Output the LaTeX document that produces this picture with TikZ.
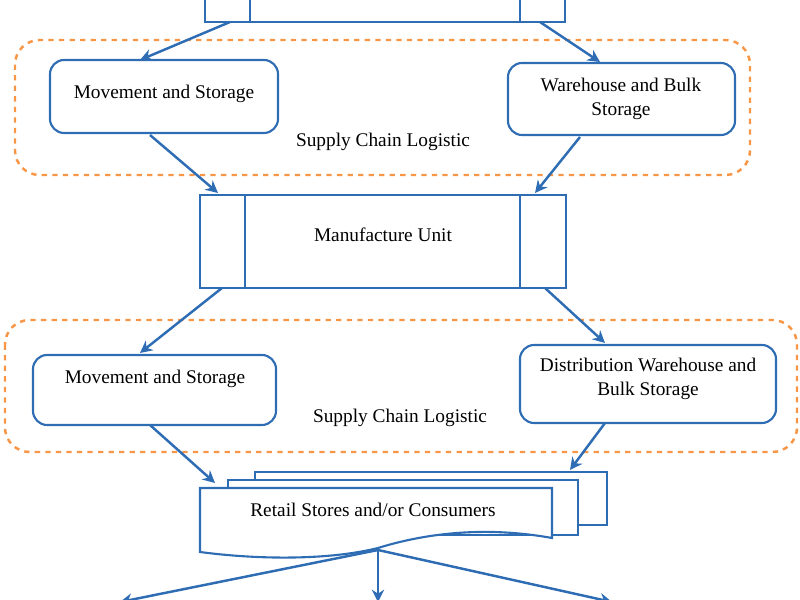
\documentclass[tikz,border=0pt]{standalone}
\usepackage{fontspec}
\setmainfont{Liberation Serif}
\usetikzlibrary{arrows.meta}
\definecolor{boxblue}{HTML}{2E6DB4}
\definecolor{logorange}{HTML}{F79646}
\tikzset{
  blk/.style={draw=boxblue, line width=1.2pt, rounded corners=8pt, fill=white},
  proc/.style={draw=boxblue, line width=1.2pt, fill=white},
  grp/.style={draw=logorange, line width=1.4pt, dashed, rounded corners=14pt},
  flow/.style={-{Stealth[length=7pt,width=7pt]}, draw=boxblue, line width=1.4pt},
  txt/.style={font=\fontsize{11}{14}\selectfont, align=center}
}
\begin{document}
\begin{tikzpicture}[x=0.2mm, y=-0.2mm]
\useasboundingbox (0,0) rectangle (800,600);
% top process box
\draw[proc] (205,-5) rectangle (565,22);
\draw[proc] (250,-5) -- (250,22) (520,-5) -- (520,22);
\coordinate (topL) at (230,22);
\coordinate (topR) at (540,22);
% first logistic group
\draw[grp] (15,40) rectangle (750,175);
\draw[blk] (50,60) rectangle (278,133);
\node[txt] (mov1) at (164,94) {Movement and Storage};
\draw[blk] (508,63) rectangle (735,135);
\node[txt] (ware) at (621,99) {Warehouse and Bulk\\Storage};
\node[txt] (log1) at (383,142) {Supply Chain Logistic};
% manufacture
\draw[proc] (200,195) rectangle (566,288);
\draw[proc] (245,195) -- (245,288) (520,195) -- (520,288);
\node[txt] (manu) at (383,235) {Manufacture Unit};
% second logistic group
\draw[grp] (5,320) rectangle (797,452);
\draw[blk] (33,355) rectangle (276,425);
\node[txt] (mov2) at (155,379) {Movement and Storage};
\draw[blk] (520,345) rectangle (776,423);
\node[txt] (dist) at (648,379) {Distribution Warehouse and\\Bulk Storage};
\node[txt] (log2) at (400,418) {Supply Chain Logistic};
% retail multi-document
\draw[proc] (255,472) rectangle (607,525);
\draw[proc] (228,480) rectangle (578,535);
\draw[proc] (200,488) -- (552,488) -- (552,538) .. controls (480,525) and (420,535) .. (378,548)
  .. controls (330,560) and (260,560) .. (200,552) -- cycle;
\node[txt] (retail) at (373,510) {Retail Stores and/or Consumers};
\coordinate (retB) at (378,550);
\coordinate (outL) at (120,602);
\coordinate (outM) at (378,602);
\coordinate (outR) at (612,602);
% connectors
\draw[flow] (topL) -- (140,60);
\draw[flow] (topR) -- (600,62);
\draw[flow] (150,135) -- (218,193);
\draw[flow] (580,137) -- (535,193);
\draw[flow] (222,288) -- (140,353);
\draw[flow] (545,288) -- (605,343);
\draw[flow] (150,425) -- (215,483);
\draw[flow] (605,423) -- (570,470);
\draw[flow] (retB) -- (outL);
\draw[flow] (retB) -- (outM);
\draw[flow] (retB) -- (outR);
\end{tikzpicture}
\end{document}
